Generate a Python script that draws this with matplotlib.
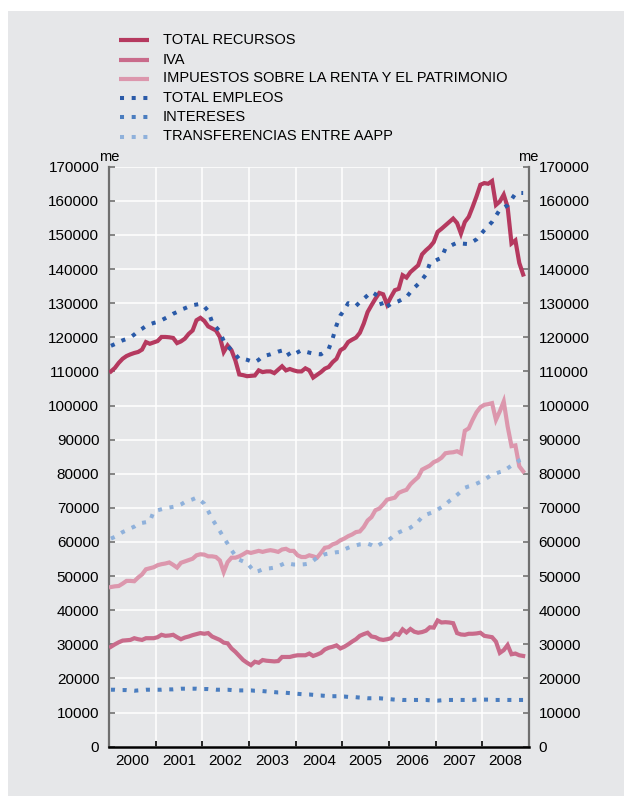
import numpy as np
import matplotlib
matplotlib.use("Agg")
import matplotlib.pyplot as plt
from matplotlib.lines import Line2D
from matplotlib.patches import Rectangle
from matplotlib.ticker import FixedLocator, NullFormatter, FixedFormatter

plt.rcParams['font.family'] = ['Liberation Sans', 'DejaVu Sans']

# Monthly series, January 2000 - November 2008 (millones de euros)
total_recursos = [
    110000, 111000, 112500, 113700, 114500, 115000, 115400, 115700, 116400, 118600, 118100, 118500,
    118900, 120100, 120100, 120000, 119800, 118300, 118800, 119600, 121000, 122000, 125000, 125700,
    124800, 123200, 122600, 122000, 120100, 115700, 117600, 116200, 113200, 109100, 108900, 108600,
    108700, 108800, 110300, 109800, 110000, 110000, 109500, 110500, 111500, 110300, 110700, 110300,
    110000, 110000, 110900, 110300, 108200, 109000, 109800, 110800, 111300, 112700, 113700, 116200,
    116900, 118600, 119300, 119900, 121300, 124000, 127400, 129400, 131300, 133000, 132600, 129600,
    131800, 133800, 134200, 138200, 137500, 139100, 140100, 141100, 144300, 145500, 146500, 147900,
    150900, 151800, 152800, 153800, 154800, 153500, 150400, 153800, 155300, 158200, 161300, 164700,
    165200, 165000, 165800, 158800, 159800, 161800, 158200, 147500, 148400, 141800, 138400,
]

iva = [
    29300, 30000, 30600, 31100, 31200, 31300, 31800, 31500, 31300, 31800, 31800, 31800,
    32100, 32800, 32500, 32600, 32800, 32100, 31500, 32000, 32300, 32700, 33000, 33300,
    33100, 33300, 32300, 31800, 31300, 30500, 30300, 28800, 27800, 26600, 25400, 24600,
    23900, 24900, 24600, 25400, 25200, 25100, 25000, 25100, 26300, 26300, 26300, 26600,
    26800, 26800, 26800, 27300, 26600, 27000, 27500, 28500, 29000, 29300, 29700, 28800,
    29300, 30000, 30800, 31500, 32500, 33000, 33400, 32300, 32100, 31500, 31300, 31500,
    31800, 33100, 32800, 34400, 33500, 34500, 33700, 33400, 33600, 34000, 35000, 34900,
    37000, 36400, 36500, 36400, 36200, 33300, 32900, 32800, 33100, 33100, 33200, 33400,
    32500, 32300, 32100, 30800, 27500, 28300, 29800, 27100, 27300, 26800, 26600,
]

impuestos_renta = [
    46800, 47000, 47100, 47800, 48600, 48600, 48500, 49600, 50500, 52000, 52300, 52600,
    53200, 53500, 53700, 54000, 53300, 52500, 53900, 54300, 54700, 55100, 56100, 56400,
    56300, 55800, 55800, 55600, 54600, 51200, 54100, 55400, 55400, 55800, 56400, 57100,
    56800, 57100, 57400, 57100, 57400, 57600, 57400, 57100, 57800, 58000, 57400, 57400,
    56100, 55600, 55600, 56100, 55800, 55400, 56800, 58300, 58500, 59300, 59700, 60500,
    61000, 61700, 62200, 62900, 63100, 64400, 66300, 67300, 69300, 69800, 71000, 72400,
    72700, 73000, 74400, 74900, 75300, 76900, 78000, 79000, 81200, 81800, 82400, 83400,
    83900, 84700, 86000, 86200, 86300, 86600, 86000, 92600, 93300, 95800, 98000, 99500,
    100200, 100400, 100700, 95800, 98300, 101200, 93900, 88100, 88300, 82200, 80700,
]

total_empleos = [
    117500, 118000, 118600, 119100, 119500, 120000, 120800, 121800, 122500, 123300, 123800, 124200,
    124500, 125000, 125600, 126200, 126900, 127400, 128100, 128500, 129000, 129400, 129600, 129800,
    129000, 127700, 124500, 123000, 121700, 118900, 117500, 116200, 115000, 113600, 113700, 113400,
    113000, 112700, 113400, 114400, 114700, 115000, 115400, 115800, 116100, 116400, 114500, 115000,
    115600, 116200, 115800, 115500, 115200, 115100, 115000, 115800, 116600, 119600, 123500, 126400,
    128000, 130000, 129600, 129200, 130300, 131300, 132300, 133300, 132600, 131800, 128400, 129000,
    129800, 130200, 130600, 131200, 131800, 133200, 134500, 135600, 136900, 138400, 141600, 142200,
    142800, 143300, 146000, 146600, 147200, 147700, 147500, 147400, 147300, 148000, 148700, 150000,
    151400, 152600, 153800, 155600, 157400, 158000, 158700, 160400, 162100, 162300, 162300,
]

intereses = [
    16700, 16700, 16600, 16600, 16600, 16500, 16400, 16500, 16600, 16700, 16700, 16700, 16700,
    16700, 16800, 16800, 16800, 16900, 17000, 17000, 17000, 17000, 17000, 16900, 16900,
    16900, 16800, 16700, 16700, 16700, 16700, 16600, 16500, 16500, 16500, 16500, 16500,
    16400, 16400, 16300, 16200, 16100, 16000, 15900, 15900, 15800, 15700, 15600, 15500,
    15400, 15300, 15300, 15200, 15000, 15000, 14900, 14800, 14800, 14800, 14700, 14700,
    14600, 14600, 14500, 14400, 14300, 14200, 14200, 14200, 14200, 14100, 14000, 13900,
    13800, 13800, 13700, 13700, 13700, 13700, 13700, 13700, 13700, 13600, 13500, 13500,
    13600, 13700, 13700, 13700, 13700, 13700, 13700, 13700, 13700, 13800, 13800, 13800,
    13800, 13700, 13700, 13700, 13700, 13700, 13700, 13700, 13700, 13700,
]

transferencias = [
    61000, 61500, 62200, 62900, 63400, 64000, 64500, 65300, 65600, 65800, 66000, 69000,
    69300, 69600, 69900, 70100, 70300, 70500, 71000, 71700, 72100, 72500, 73000, 72200,
    71200, 69100, 66800, 65000, 63200, 61300, 59500, 57600, 56000, 54800, 54300, 53900,
    52500, 51200, 51500, 52000, 52200, 52300, 52500, 52900, 53400, 53900, 53600, 53400,
    53400, 53400, 53500, 53700, 54500, 55400, 55800, 56400, 56600, 56800, 57000, 57100,
    57800, 58300, 58700, 59000, 59300, 59400, 59500, 59100, 58500, 59200, 59800, 60300,
    61100, 62200, 62800, 63300, 63600, 64200, 65000, 66000, 67300, 68000, 68400, 68800,
    69500, 70200, 71000, 72000, 72800, 73800, 74800, 75900, 76300, 76600, 77100, 77600,
    78200, 79000, 79700, 80100, 80500, 80800, 81600, 82400, 83000, 83900, 84300,
]

years = list(range(2000, 2009))
year_labels = [str(y) for y in years]
y_ticks = list(range(0, 170001, 10000))

BG = '#e6e7e9'
DOT = (0, (1.0, 1.9))

series = [
    ('TOTAL RECURSOS', total_recursos, '#b5395f', '-'),
    ('IVA', iva, '#c96b8b', '-'),
    ('IMPUESTOS SOBRE LA RENTA Y EL PATRIMONIO', impuestos_renta, '#dc97ad', '-'),
    ('TOTAL EMPLEOS', total_empleos, '#2a5aa8', DOT),
    ('INTERESES', intereses, '#4a7dbf', DOT),
    ('TRANSFERENCIAS ENTRE AAPP', transferencias, '#8fb1db', DOT),
]

W, H = 624, 796
fig = plt.figure(figsize=(W / 100, H / 100), dpi=100)
fig.patch.set_facecolor('white')
fig.add_artist(Rectangle((8 / W, 0), 1 - 8 / W, 1 - 11 / H, transform=fig.transFigure,
                         facecolor=BG, edgecolor='none', zorder=-10))

left, right, bottom, top = 109, 529, 746.7, 166.7
ax = fig.add_axes([left / W, 1 - bottom / H, (right - left) / W, (bottom - top) / H])
ax.set_facecolor(BG)

for name, vals, color, ls in series:
    x = 2000 + (np.arange(len(vals)) + 0.5) / 12
    solid = ls == '-'
    ax.plot(x, vals, color=color, lw=3.0 if solid else 2.9, linestyle=ls,
            solid_joinstyle='miter', dash_capstyle='butt',
            zorder=3 if solid else 4)

ax.set_xlim(2000, 2009)
ax.set_ylim(0, 170000)

ax.xaxis.set_major_locator(FixedLocator(years + [2009]))
ax.xaxis.set_major_formatter(NullFormatter())
ax.xaxis.set_minor_locator(FixedLocator([y + 0.5 for y in years]))
ax.xaxis.set_minor_formatter(FixedFormatter(year_labels))
ax.tick_params(axis='x', which='major', direction='in', length=4, width=1.2, color='black')
ax.tick_params(axis='x', which='minor', length=0, pad=5, labelsize=11)

ax.yaxis.set_major_locator(FixedLocator(y_ticks))
ax.set_yticklabels([str(v) for v in y_ticks])
ax.tick_params(axis='y', direction='in', length=4, width=1.2, color='#6f6f6f',
               left=True, right=True, labelleft=True, labelright=True,
               labelsize=11, pad=7)

ax.grid(True, which='major', color='white', lw=1.1, zorder=0)
ax.set_axisbelow(True)

ax.spines['top'].set_visible(False)
for side in ('left', 'right'):
    ax.spines[side].set_color('#6f6f6f')
    ax.spines[side].set_linewidth(1.6)
ax.spines['bottom'].set_color('black')
ax.spines['bottom'].set_linewidth(1.8)

# unit labels
fig.text(99 / W, 1 - 161 / H, 'me', fontsize=10.5, ha='left', va='baseline')
fig.text(518 / W, 1 - 161 / H, 'me', fontsize=10.5, ha='left', va='baseline')

# legend
rows = [40, 59.5, 78.5, 98, 117, 136.5]
for (name, vals, color, ls), ry in zip(series, rows):
    yf = 1 - ry / H
    solid = ls == '-'
    x0 = 119 / W if solid else 119.5 / W
    fig.add_artist(Line2D([x0, 149 / W], [yf, yf], transform=fig.transFigure,
                          color=color, lw=3.0 if solid else 2.9, linestyle=ls,
                          dash_capstyle='butt', solid_capstyle='butt'))
    fig.text(163 / W, yf, name, fontsize=10.5, ha='left', va='center')

fig.savefig('out.png', dpi=100, facecolor='white')
